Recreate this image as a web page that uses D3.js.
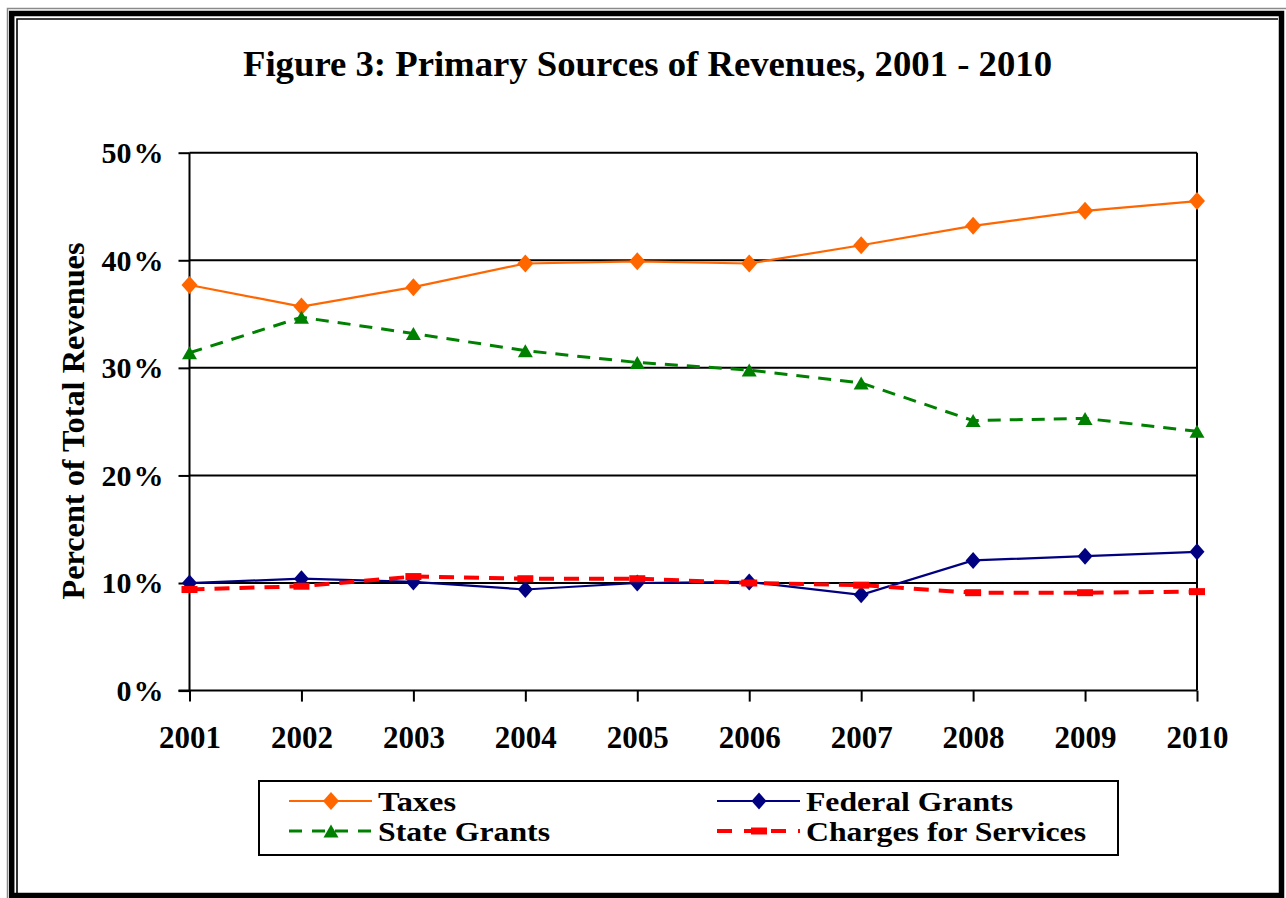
<!DOCTYPE html>
<html>
<head>
<meta charset="utf-8">
<script src="https://cdn.jsdelivr.net/npm/d3@7"></script>
<style>
  html, body { margin: 0; padding: 0; background: #fff; }
  svg { display: block; }
  text { font-family: "Liberation Serif", "Times New Roman", serif; font-weight: bold; fill: #000; }
</style>
</head>
<body>
<svg id="chart" width="1286" height="898"></svg>
<script>
// Revenue shares by year (percent of total revenues)
const years = [2001, 2002, 2003, 2004, 2005, 2006, 2007, 2008, 2009, 2010];
const taxes = [37.7, 35.7, 37.5, 39.7, 39.9, 39.7, 41.4, 43.2, 44.6, 45.5];
const stateGrants = [31.4, 34.7, 33.2, 31.6, 30.5, 29.8, 28.6, 25.1, 25.3, 24.1];
const federalGrants = [10.0, 10.4, 10.1, 9.4, 10.0, 10.1, 8.9, 12.1, 12.5, 12.9];
const chargesForServices = [9.4, 9.7, 10.6, 10.4, 10.4, 10.0, 9.8, 9.1, 9.1, 9.2];
const yTicks = [0, 10, 20, 30, 40, 50];
const seriesNames = ["Taxes", "State Grants", "Federal Grants", "Charges for Services"];

const svg = d3.select("#chart");

// Page frame: thin grey outer rule, heavy black rule, thin inner rule
svg.append("path").attr("d", "M7.5,898 V8.5 H1286")
  .attr("fill", "none").attr("stroke", "#8a8a8a").attr("stroke-width", 1.5);
svg.append("rect").attr("x", 11.7).attr("y", 13.5).attr("width", 1269.8).attr("height", 882)
  .attr("fill", "none").attr("stroke", "#000").attr("stroke-width", 5.5);
svg.append("path").attr("d", "M17,893 V19 H1278")
  .attr("fill", "none").attr("stroke", "#000").attr("stroke-width", 1.6);

// Title
svg.append("text").attr("x", 647.5).attr("y", 76).attr("text-anchor", "middle")
  .attr("textLength", 809).attr("lengthAdjust", "spacingAndGlyphs")
  .style("font-size", "35px").text("Figure 3: Primary Sources of Revenues, 2001 - 2010");

const x = d3.scalePoint().domain(years).range([189.5, 1197]);
const y = d3.scaleLinear().domain([0, 50]).range([690.6, 152.7]);

// Horizontal gridlines with outward ticks; the % sign sits a little apart
const yAxis = d3.axisLeft(y).tickValues(yTicks).tickSize(11).tickFormat(d => String(d));
const gy = svg.append("g").attr("transform", `translate(${x(2001)},0)`).call(yAxis);
gy.select(".domain").remove();
gy.selectAll(".tick line").attr("stroke", "#000").attr("stroke-width", 2);
gy.selectAll(".tick text").attr("x", -26).attr("dy", "0.33em")
  .style("font-size", "30px").style("font-family", "'Liberation Serif', serif").style("font-weight", "bold").attr("fill", "#000")
  .append("tspan").attr("dx", 2).text("%");
svg.append("g").selectAll("line").data(yTicks.filter(t => t > 0)).join("line")
  .attr("x1", x(2001)).attr("x2", x(2010)).attr("y1", d => y(d)).attr("y2", d => y(d))
  .attr("stroke", "#000").attr("stroke-width", 2);

// Plot frame: left axis and right edge
svg.append("line").attr("x1", x(2001)).attr("x2", x(2001)).attr("y1", y(50)).attr("y2", y(0))
  .attr("stroke", "#000").attr("stroke-width", 2);
svg.append("line").attr("x1", x(2010)).attr("x2", x(2010)).attr("y1", y(50)).attr("y2", y(0))
  .attr("stroke", "#000").attr("stroke-width", 2);

// Category axis
const xAxis = d3.axisBottom(x).tickSize(11).tickSizeOuter(0);
const gx = svg.append("g").attr("transform", `translate(0,${y(0)})`).call(xAxis);
gx.select(".domain").attr("stroke", "#000").attr("stroke-width", 2).attr("d", `M${x(2001) - 11},0H${x(2010)}`);
gx.selectAll(".tick line").attr("stroke", "#000").attr("stroke-width", 2);
gx.selectAll(".tick text").attr("y", 57.5).attr("dy", 0)
  .style("font-size", "31px").style("font-family", "'Liberation Serif', serif").style("font-weight", "bold").attr("fill", "#000");

// Y axis title
svg.append("text").attr("transform", "translate(84,421) rotate(-90)").attr("text-anchor", "middle")
  .attr("textLength", 357).attr("lengthAdjust", "spacingAndGlyphs")
  .style("font-size", "32px").text("Percent of Total Revenues");

// Marker shapes
const diamond = (hw, hh) => `M0,${-hh}L${hw},0L0,${hh}L${-hw},0Z`;
const triangle = (hw, hh) => `M0,${-hh}L${hw},${hh}L${-hw},${hh}Z`;
const wideRect = (hw, hh) => `M${-hw},${-hh}H${hw}V${hh}H${-hw}Z`;

const series = [
  { name: seriesNames[0], values: taxes, color: "#FF6600", width: 2.2, dash: null, marker: diamond(8, 9), labelW: 78 },
  { name: seriesNames[1], values: stateGrants, color: "#008000", width: 3, dash: "13,9", marker: triangle(7.5, 6.5), labelW: 172 },
  { name: seriesNames[2], values: federalGrants, color: "#000080", width: 2.2, dash: null, marker: diamond(7.5, 8.5), labelW: 207 },
  { name: seriesNames[3], values: chargesForServices, color: "#FF0000", width: 4, dash: "15,10", marker: wideRect(8, 3.5), labelW: 280 }
];

const line = d3.line().x((d, i) => x(years[i])).y(d => y(d));

series.forEach(s => {
  const g = svg.append("g");
  g.append("path").datum(s.values).attr("d", line)
    .attr("fill", "none").attr("stroke", s.color).attr("stroke-width", s.width)
    .attr("stroke-dasharray", s.dash);
  g.selectAll("path.m").data(s.values).join("path").attr("class", "m")
    .attr("d", s.marker).attr("fill", s.color)
    .attr("transform", (d, i) => `translate(${x(years[i])},${y(d)})`);
});

// Legend
svg.append("rect").attr("x", 259).attr("y", 781).attr("width", 859).attr("height", 74)
  .attr("fill", "#fff").attr("stroke", "#000").attr("stroke-width", 2);
const legendPos = [
  { x: 289, y: 801 }, { x: 289, y: 831 }, { x: 717, y: 801 }, { x: 717, y: 831 }
];
series.forEach((s, i) => {
  const p = legendPos[i];
  const g = svg.append("g").attr("transform", `translate(${p.x},${p.y})`);
  g.append("line").attr("x1", 0).attr("x2", 83).attr("y1", 0).attr("y2", 0)
    .attr("stroke", s.color).attr("stroke-width", s.width)
    .attr("stroke-dasharray", s.dash ? (i === 1 ? "13,10" : "15,12") : null);
  g.append("path").attr("d", s.marker).attr("fill", s.color).attr("transform", "translate(42,0)");
  g.append("text").attr("x", 89).attr("y", 9.5)
    .attr("textLength", s.labelW).attr("lengthAdjust", "spacingAndGlyphs")
    .style("font-size", "26.5px").text(s.name);
});
</script>
</body>
</html>
